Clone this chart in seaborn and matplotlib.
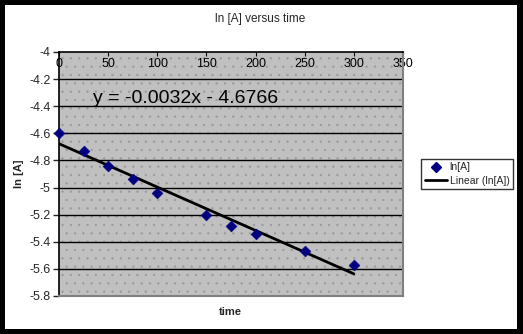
import matplotlib
matplotlib.use("Agg")
import matplotlib.pyplot as plt
from matplotlib.patches import Rectangle
from matplotlib.lines import Line2D
import numpy as np
import pandas as pd
import seaborn as sns

# Measured concentration data
time = [0, 25, 50, 75, 100, 150, 175, 200, 250, 300]
ln_a = [-4.60, -4.73, -4.84, -4.94, -5.04, -5.20, -5.28, -5.34, -5.47, -5.57]

# Linear trendline parameters
slope = -0.0032
intercept = -4.6766

x_ticks = [0, 50, 100, 150, 200, 250, 300, 350]
y_ticks = [-4, -4.2, -4.4, -4.6, -4.8, -5, -5.2, -5.4, -5.6, -5.8]

sns.set_style("white")
plt.rcParams["font.family"] = ["Liberation Sans", "DejaVu Sans"]
plt.rcParams["hatch.linewidth"] = 0.4
plt.rcParams["hatch.color"] = "#999999"

W, H = 523, 334
fig = plt.figure(figsize=(W / 100, H / 100), dpi=100)
fig.patch.set_facecolor("black")
fig.patches.append(Rectangle((5 / W, 5 / H), 512 / W, 324 / H,
                             transform=fig.transFigure, facecolor="white",
                             edgecolor="none", zorder=-10))

ax = fig.add_axes([59 / W, 1 - 296 / H, 344 / W, 244 / H])
ax.set_facecolor("#c0c0c0")
ax.add_patch(Rectangle((0, 0), 1, 1, transform=ax.transAxes, facecolor="none",
                       hatch="..", edgecolor="#999999", linewidth=0, zorder=0))

df = pd.DataFrame({"time": time, "ln[A]": ln_a})
trend = pd.DataFrame({"time": [time[0], time[-1]]})
trend["fit"] = slope * trend["time"] + intercept

sns.lineplot(data=trend, x="time", y="fit", color="black", linewidth=2,
             ax=ax, zorder=3)
sns.scatterplot(data=df, x="time", y="ln[A]", marker="D", s=30,
                color="#000080", edgecolor="#000080", ax=ax, zorder=4,
                clip_on=False)

ax.set_xlim(0, 350)
ax.set_ylim(-5.8, -4)
ax.set_xticks(x_ticks)
ax.set_xticklabels([str(v) for v in x_ticks])
ax.set_yticks(y_ticks)
ax.set_yticklabels([f"{v:g}" for v in y_ticks])
for v in y_ticks[1:-1]:
    ax.axhline(v, color="black", linewidth=1, zorder=1)

ax.xaxis.tick_top()
ax.tick_params(axis="x", direction="in", length=3, pad=-13, labelsize=9,
               colors="black", top=True, bottom=False)
ax.tick_params(axis="y", direction="out", length=4, width=1, pad=2,
               labelsize=9, left=True)
ax.set_xlabel("")
ax.set_ylabel("")

for side in ["left", "top"]:
    ax.spines[side].set_color("black")
    ax.spines[side].set_linewidth(1.2)
for side in ["right", "bottom"]:
    ax.spines[side].set_color("#808080")
    ax.spines[side].set_linewidth(1.5)

ax.text(0.1, 0.81, "y = -0.0032x - 4.6766", transform=ax.transAxes,
        fontsize=14, color="black", va="center", ha="left")

fig.text(260 / W, 1 - 19 / H, "ln [A] versus time", ha="center",
         va="center", fontsize=8.5)
fig.text(230 / W, 1 - 312 / H, "time", ha="center", va="center",
         fontsize=8, fontweight="bold")
fig.text(19 / W, 1 - 174 / H, "ln [A]", ha="center", va="center",
         fontsize=8, fontweight="bold", rotation=90)

handles = [Line2D([], [], marker="D", color="#000080", linestyle="none",
                  markersize=5),
           Line2D([], [], color="black", linewidth=2)]
leg = fig.legend(handles, ["ln[A]", "Linear (ln[A])"],
                 loc="center", bbox_to_anchor=(467 / W, 1 - 174 / H),
                 fontsize=7.5, frameon=True, fancybox=False,
                 handlelength=2.2, handletextpad=0.2, borderpad=0.3,
                 labelspacing=0.3, borderaxespad=0)
leg.get_frame().set_edgecolor("black")
leg.get_frame().set_linewidth(1)

fig.savefig("out.png", dpi=100, facecolor=fig.get_facecolor())
